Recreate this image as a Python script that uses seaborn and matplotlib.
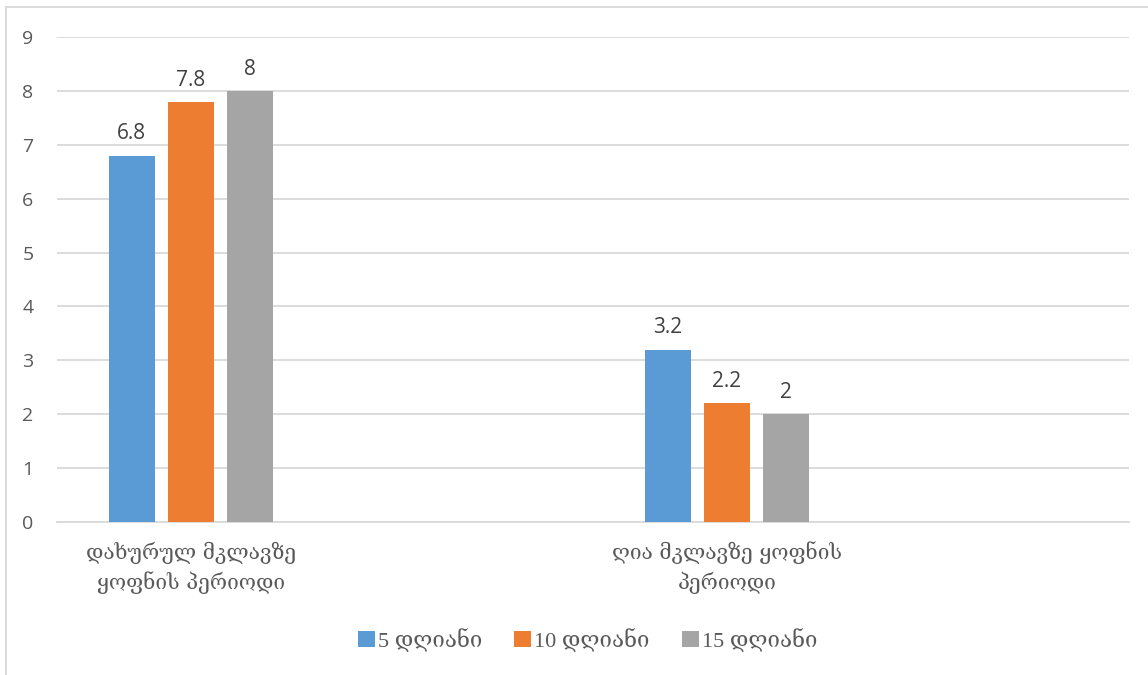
import matplotlib
matplotlib.use("Agg")
import matplotlib.pyplot as plt
from matplotlib.lines import Line2D
from matplotlib.patches import Patch
import seaborn as sns
import pandas as pd

# Data
categories = ["დახურულ მკლავზე\nყოფნის პერიოდი", " ", "ღია მკლავზე ყოფნის\nპერიოდი", "  "]
series = ["5 დღიანი", "10 დღიანი", "15 დღიანი"]
values_5 = [6.8, None, 3.2, None]
values_10 = [7.8, None, 2.2, None]
values_15 = [8.0, None, 2.0, None]
y_ticks = list(range(0, 10))

colors = ["#5B9BD5", "#ED7D31", "#A5A5A5"]
text_color = "#595959"
grid_color = "#D9D9D9"

rows = []
for cat, a, b, c in zip(categories, values_5, values_10, values_15):
    for s, v in zip(series, (a, b, c)):
        rows.append({"category": cat, "series": s, "value": v})
df = pd.DataFrame(rows)

sns.set_theme(style="white")
plt.rcParams["font.family"] = ["Open Sans", "DejaVu Sans"]

fig = plt.figure(figsize=(11.48, 6.75), dpi=100)
ax = fig.add_axes([57 / 1148, 1 - 522 / 675, (1129 - 57) / 1148, (522 - 37) / 675])

sns.barplot(data=df, x="category", y="value", hue="series", order=categories,
            hue_order=series, palette=colors, width=0.662, gap=0.22,
            saturation=1, errorbar=None, legend=False, ax=ax, zorder=3,
            edgecolor="none", linewidth=0)

ax.set_ylim(0, 9)
ax.set_xlim(-0.5, len(categories) - 0.5)
ax.set_yticks(y_ticks)
ax.set_yticklabels([str(t) for t in y_ticks], fontsize=14, color=text_color)
ax.yaxis.grid(True, color=grid_color, linewidth=1.3, zorder=0)
ax.set_axisbelow(True)
ax.tick_params(axis="y", length=0, pad=17)
ax.tick_params(axis="x", length=0, pad=14)
ax.set_xticks(range(len(categories)))
ax.set_xticklabels(categories, fontsize=15, color=text_color,
                   family=["DejaVu Serif", "DejaVu Sans"], linespacing=1.4)
ax.set_xlabel("")
ax.set_ylabel("")
for side in ("top", "right", "left"):
    ax.spines[side].set_visible(False)
ax.spines["bottom"].set_color(grid_color)
ax.spines["bottom"].set_linewidth(1.3)

# Value labels above bars
for container in ax.containers:
    labels = []
    for bar in container:
        h = bar.get_height()
        if h != h or h == 0:
            labels.append("")
        else:
            labels.append(f"{h:g}")
    ax.bar_label(container, labels=labels, padding=8, fontsize=15, color="#404040")

# Legend
handles = [Patch(facecolor=c, edgecolor="none") for c in colors]
fig.legend(handles, series, loc="center", bbox_to_anchor=(0.512, 1 - 640 / 675),
           ncol=3, frameon=False, handlelength=0.75, handleheight=0.75,
           handletextpad=0.15, columnspacing=1.45, labelcolor=text_color,
           prop={"family": ["Liberation Serif", "DejaVu Serif"], "size": 16})

# Chart frame
fig.add_artist(Line2D([6 / 1148, 6 / 1148], [0, 1 - 7 / 675], color=grid_color,
                      linewidth=1.3, transform=fig.transFigure))
fig.add_artist(Line2D([6 / 1148, 1], [1 - 7 / 675, 1 - 7 / 675], color=grid_color,
                      linewidth=1.3, transform=fig.transFigure))

fig.savefig("out.png", dpi=100, facecolor="white")
